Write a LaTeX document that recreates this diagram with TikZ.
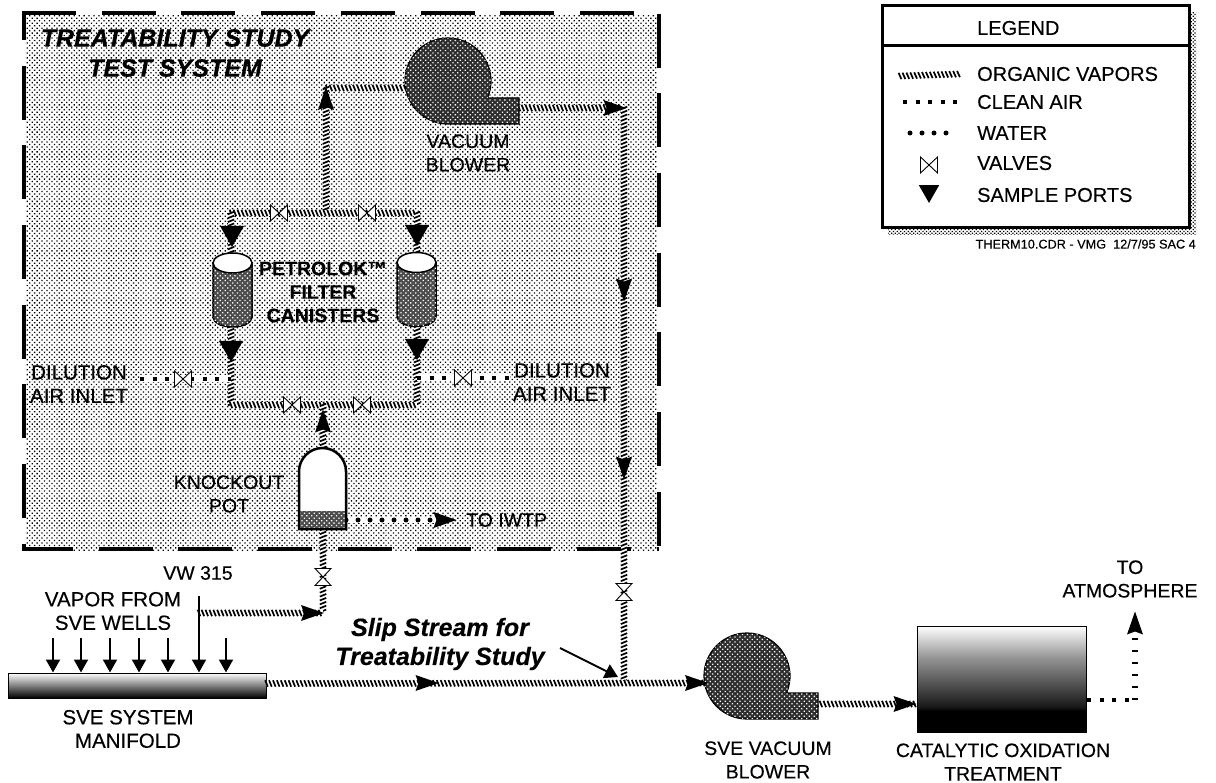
\documentclass[tikz,border=0pt]{standalone}
\usepackage{fontspec}
\setmainfont{Liberation Sans}[FakeBold=0.3]
\usetikzlibrary{arrows.meta, positioning, calc, decorations.markings, patterns.meta}
\pgfdeclareverticalshading{catshade}{100bp}{color(0bp)=(black); color(35bp)=(black); color(37bp)=(black!90); color(60bp)=(black!42); color(75bp)=(white); color(100bp)=(white)}
\tikzset{
  halftone/.style={pattern={Dots[angle=45,distance=3.5pt,radius=0.92pt]}, pattern color=black},
  whitedots/.style={postaction={pattern={Dots[angle=45,distance=3.5pt,radius=0.9pt]}, pattern color=white}},
  vapor/.style={preaction={draw=white, line width=5.5pt},
    postaction={decorate, decoration={markings, mark=between positions 0 and 1 step 3.9pt with
      {\draw[black, line width=1.7pt] (-1.3,-3.2) -- (1.3,3.2);}}}},
  cleanair/.style={draw=black, line width=4pt, dash pattern=on 4pt off 8.5pt,
    preaction={draw=white, line width=7pt, solid}},
  water/.style={draw=black, line width=5pt, line cap=round, dash pattern=on 0pt off 12pt,
    preaction={draw=white, line width=6pt, line cap=butt, solid}},
  airbars/.style={draw=black, line width=6pt, dash pattern=on 1.8pt off 10.2pt},
  boxdash/.style={line width=4.5pt, dash pattern=on 54pt off 25.7pt},
  valvebody/.style={draw=black, fill=white, line width=0.9pt},
  wellarrow/.style={-{Triangle[length=13pt,width=14pt]}, line width=2pt},
  slipline/.style={-{Triangle[length=13pt,width=15pt]}, line width=1.8pt},
  labeltext/.style={font=\fontsize{19.5}{23.5}\selectfont, align=center, inner sep=0pt},
  widetext/.style={font=\fontsize{20.5}{23.5}\selectfont, align=center, inner sep=0pt},
  boldtext/.style={font=\fontsize{19.5}{23.5}\selectfont\bfseries, align=center, inner sep=0pt},
  titletext/.style={font=\fontsize{25}{30}\selectfont\bfseries\itshape, align=center, inner sep=0pt},
  sliptext/.style={font=\fontsize{25}{29}\selectfont\bfseries\itshape, align=center, inner sep=0pt},
  legendtext/.style={font=\fontsize{20}{24}\selectfont, anchor=west, inner sep=0pt},
  catbox/.style={rectangle, draw=black, line width=1pt, shading=catshade, minimum width=169pt, minimum height=106pt, inner sep=0pt},
  manifoldbox/.style={rectangle, draw=black, line width=1pt, top color=white, bottom color=black, minimum width=258pt, minimum height=25pt, inner sep=0pt},
  legendbox/.style={rectangle, draw=black, line width=3pt, fill=white, minimum width=307pt, minimum height=222pt, inner sep=0pt},
  valve/.pic={\path[valvebody] (-8.5,-8) -- (8.5,8) -- (8.5,-8) -- (-8.5,8) -- cycle;},
  flowtip/.pic={\fill (11.5,0) -- (-11.5,-8) -- (-8.5,0) -- (-11.5,8) -- cycle;},
  port/.pic={\fill (-12,-10.5) -- (12,-10.5) -- (0,10.5) -- cycle;},
  blower/.pic={\path[draw=black, line width=1.2pt, fill=black!82, whitedots]
    (0,43) arc[start angle=90, end angle=383.3, radius=43] -- (71,17) -- (71,43) -- cycle;},
  canister/.pic={
    \path[draw=black, line width=1.5pt, fill=black!70, whitedots]
      (-19.5,-27) -- (-19.5,27) arc[start angle=180, end angle=0, x radius=19.5, y radius=10] -- (19.5,-27) -- cycle;
    \draw[line width=1.5pt, fill=white] (0,-27) ellipse[x radius=19.5, y radius=10];}
}
\begin{document}
\begin{tikzpicture}[x=1pt, y=-1pt]
  \useasboundingbox[fill=white] (0,0) rectangle (1216,783);

  % Test system boundary
  \path[halftone] (26,15) rectangle (657,550);
  \draw[boxdash] (22,13) -- (659,13) -- (659,549);
  \draw[boxdash, dash phase=27pt] (24,13) -- (24,549) -- (659,549);

  % Junctions
  \coordinate (blowerIn) at (405,88);
  \coordinate (riserTop) at (326,88);
  \coordinate (teeUpper) at (326,213);
  \coordinate (cornerUL) at (231,213);
  \coordinate (cornerUR) at (417,213);
  \coordinate (cornerLL) at (231,405);
  \coordinate (cornerLR) at (417,405);
  \coordinate (teeLower) at (323,405);
  \coordinate (potTop) at (323,448);
  \coordinate (potBase) at (323,529);
  \coordinate (vwBend) at (323,613);
  \coordinate (vwTop) at (199,596);
  \coordinate (vwBranch) at (199,613);
  \coordinate (blowerOut) at (519,108);
  \coordinate (bypassTop) at (624,108);
  \coordinate (bypassBase) at (624,683);
  \coordinate (mainEnd) at (706,683);
  \coordinate (sveOut) at (817,704);
  \coordinate (catIn) at (917,704);
  \coordinate (catOut) at (1087,700);
  \coordinate (stackBase) at (1135,700);
  \coordinate (stackTop) at (1135,636);
  \coordinate (airLeftFrom) at (140,379);
  \coordinate (airLeftTo) at (231,379);
  \coordinate (airRightFrom) at (417,378);
  \coordinate (airRightTo) at (510,378);
  \coordinate (waterFrom) at (346,520);
  \coordinate (waterTo) at (436,520);
  \coordinate (slipFrom) at (560,648);
  \coordinate (slipTo) at (618,677);

  % Equipment
  \node[manifoldbox] (manifold) at (137,685.5) {};
  \node[catbox] (catox) at (1002,679) {};

  % Paths
  \path[vapor] (blowerIn) -- (riserTop);
  \path[vapor] (riserTop) -- (teeUpper);
  \path[vapor] (cornerUL) -- (cornerUR);
  \path[vapor] (cornerUL) -- (cornerLL);
  \path[vapor] (cornerUR) -- (cornerLR);
  \path[vapor] (cornerLL) -- (cornerLR);
  \path[vapor] (teeLower) -- (potTop);
  \path[vapor] (potBase) -- (vwBend);
  \path[vapor] (vwBranch) -- (vwBend);
  \path[vapor] (blowerOut) -- (bypassTop);
  \path[vapor] (bypassTop) -- (bypassBase);
  \path[vapor] (manifold.east) ++(0,-2) coordinate (mainStart) -- (mainEnd);
  \path[vapor] (sveOut) -- (catIn);
  \draw[cleanair] (airLeftFrom) -- (airLeftTo);
  \draw[cleanair] (airRightFrom) -- (airRightTo);
  \draw[water] (waterFrom) -- (waterTo);
  \draw[cleanair] (catOut) -- (stackBase);
  \draw[airbars] (stackBase) -- (stackTop);
  \draw[slipline] (slipFrom) -- (slipTo);
  \draw[wellarrow] (vwTop) -- (vwTop |- manifold.north);
  \foreach \x in {53,81,110,139,168,226}
    \draw[wellarrow] (\x,638) -- (\x,0 |- manifold.north);

  % Vessels and blowers
  \pic at (448,81) {blower};
  \pic at (747,676) {blower};
  \pic at (232.5,290) {canister};
  \pic at (416.5,289.5) {canister};
  \draw[line width=2.5pt, fill=white] (299,529) -- (299,471.5) arc[start angle=180, end angle=360, radius=23.5] -- (346,529) -- cycle;
  \path[fill=black!70, whitedots] (300,511) rectangle (345,528);
  \draw[line width=2.5pt] (299,529) -- (346,529);

  % Valves, sample ports and flow tips
  \foreach \x/\y in {279/213, 367/213, 292/405, 362/405, 183/379, 463/378}
    \pic at (\x,\y) {valve};
  \foreach \x/\y in {323/577, 624/592}
    \pic[rotate=90] at (\x,\y) {valve};
  \foreach \x/\y in {232/236.5, 417/235.5, 231/351.5, 417/349.5}
    \pic at (\x,\y) {port};
  \foreach \x/\y in {445/520, 312.5/613, 615/108, 427/683, 696.5/683, 905/704}
    \pic at (\x,\y) {flowtip};
  \foreach \x/\y in {326/98.5, 323/421, 1135/623}
    \pic[rotate=90] at (\x,\y) {flowtip};
  \foreach \x/\y in {624/290, 624/468}
    \pic[rotate=-90] at (\x,\y) {flowtip};

  % Labels
  \node[titletext] (title) at (175,53) {TREATABILITY STUDY\\TEST SYSTEM};
  \node[labeltext] (vacLabel) at (468,153) {VACUUM\\BLOWER};
  \node[boldtext] (filterLabel) at (323,292) {PETROLOK™\\FILTER\\CANISTERS};
  \node[widetext] (diluteL) at (79,384) {DILUTION\\AIR INLET};
  \node[widetext] (diluteR) at (562,382) {DILUTION\\AIR INLET};
  \node[labeltext] (potLabel) at (229,494) {KNOCKOUT\\POT};
  \node[labeltext, anchor=west] (iwtp) at (466,520) {TO IWTP};
  \node[labeltext] (vwLabel) at (198,573) {VW 315};
  \node[widetext] (wellsLabel) at (113,611) {VAPOR FROM\\SVE WELLS};
  \node[widetext] (manifoldLabel) at (128,729) {SVE SYSTEM\\MANIFOLD};
  \node[sliptext] (slipLabel) at (440,644) {Slip Stream for\\Treatability Study};
  \node[labeltext] (sveLabel) at (768,760) {SVE VACUUM\\BLOWER};
  \node[labeltext] (catLabel) at (1003,762) {CATALYTIC OXIDATION\\TREATMENT};
  \node[labeltext] (stackLabel) at (1130,579) {TO\\ATMOSPHERE};

  % Legend
  \path[pattern={Dots[angle=45,distance=2.6pt,radius=0.9pt]}, pattern color=black] (888,13) rectangle (1196,235);
  \node[legendbox] (legend) at (1035.5,117) {};
  \coordinate (legendRule) at (1035.5,46);
  \draw[line width=3pt] (legend.west |- legendRule) -- (legend.east |- legendRule);
  \node[legendtext] (legendHead) at (977,28) {LEGEND};
  \node[legendtext] (keyVapor) at (977,74) {ORGANIC VAPORS};
  \node[legendtext] (keyAir) at (977,102) {CLEAN AIR};
  \node[legendtext] (keyWater) at (977,133) {WATER};
  \node[legendtext] (keyValve) at (977,163) {VALVES};
  \node[legendtext] (keyPort) at (977,195) {SAMPLE PORTS};
  \path[vapor] (900,76) -- (keyVapor.west -| 959,0);
  \draw[cleanair] (903,102) -- (keyAir.west -| 957,0);
  \draw[water] (910,133) -- (keyWater.west -| 947,0);
  \pic at (929,165) {valve};
  \pic[scale=0.85] at (929,194) {port};
  \node[font=\fontsize{12.7}{15}\selectfont, anchor=east, inner sep=0pt] (footer) at (1196,244) {THERM10.CDR - VMG\ \ 12/7/95 SAC 4};
\end{tikzpicture}
\end{document}
